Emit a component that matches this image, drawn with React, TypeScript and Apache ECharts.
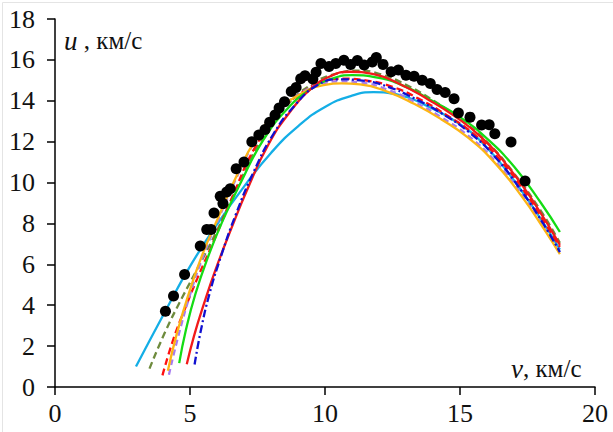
import React, { useEffect, useRef } from "react";
import * as echarts from "echarts";

const xTicks = [0, 5, 10, 15, 20];
const yTicks = [0, 2, 4, 6, 8, 10, 12, 14, 16, 18];

const measured = [
  [4.09, 3.7], [4.39, 4.45], [4.8, 5.5], [5.38, 6.9], [5.62, 7.7], [5.78, 7.7], [5.89, 8.51],
  [6.12, 9.33], [6.22, 8.97], [6.36, 9.54], [6.49, 9.7], [6.71, 10.68], [7.0, 11.0], [7.29, 12.0],
  [7.55, 12.33], [7.78, 12.6], [7.95, 12.95], [8.15, 13.3], [8.3, 13.65], [8.5, 13.95], [8.75, 14.45],
  [8.93, 14.65], [9.1, 15.08], [9.26, 15.22], [9.55, 15.06], [9.67, 15.4], [9.85, 15.82], [10.15, 15.68],
  [10.4, 15.82], [10.7, 15.98], [10.95, 15.78], [11.2, 15.97], [11.45, 15.75], [11.75, 15.9], [11.9, 16.12],
  [12.15, 15.78], [12.45, 15.42], [12.72, 15.5], [13.0, 15.25], [13.3, 15.2], [13.6, 15.0], [13.9, 14.85],
  [14.15, 14.55], [14.45, 14.4], [14.78, 14.1], [14.94, 13.4], [15.37, 13.2], [15.8, 12.82], [16.08, 12.83],
  [16.29, 12.39], [16.89, 11.98], [17.41, 10.08],
];

const cyanCurve = [
  [3.0, 1.0], [4.0, 3.5], [5.0, 5.9], [6.0, 7.95], [7.0, 9.8], [8.0, 11.45], [9.0, 12.75], [10.0, 13.7],
  [11.0, 14.25], [11.8, 14.42], [12.7, 14.3], [13.7, 13.8], [15.0, 12.85], [16.0, 11.7], [17.0, 10.1],
  [18.0, 8.2], [18.7, 6.72],
];
const oliveCurve = [
  [3.5, 0.9], [4.1, 2.75], [4.7, 4.35], [5.3, 5.85], [6.0, 7.65], [6.8, 9.9], [7.6, 12.0], [8.5, 13.65],
  [9.5, 14.8], [10.5, 15.35], [11.2, 15.47], [12.0, 15.32], [13.0, 14.78], [14.0, 14.02], [15.0, 13.1],
  [16.0, 11.98], [17.0, 10.45], [18.0, 8.6], [18.7, 7.05],
];
const redDashCurve = [
  [3.98, 0.57], [4.4, 2.4], [4.85, 3.95], [5.3, 5.4], [5.9, 7.2], [6.6, 9.4], [7.4, 11.7], [8.3, 13.4],
  [9.2, 14.45], [10.0, 14.95], [10.7, 15.08], [11.5, 15.0], [12.5, 14.68], [13.5, 14.08], [14.5, 13.3],
  [15.5, 12.38], [16.5, 11.08], [17.5, 9.35], [18.2, 7.9], [18.7, 6.85],
];
const purpleCurve = [
  [4.22, 0.6], [4.55, 2.4], [5.0, 4.5], [5.5, 6.45], [6.1, 8.35], [6.8, 10.45], [7.5, 12.2], [8.3, 13.55],
  [9.2, 14.45], [10.0, 14.88], [10.6, 14.95], [11.3, 14.9], [12.3, 14.55], [13.3, 13.95], [14.3, 13.2],
  [15.3, 12.3], [16.3, 11.05], [17.3, 9.4], [18.1, 7.8], [18.7, 6.55],
];
const orangeCurve = [
  [4.18, 0.8], [4.5, 2.55], [4.95, 4.55], [5.45, 6.45], [6.05, 8.3], [6.75, 10.4], [7.45, 12.15], [8.25, 13.5],
  [9.2, 14.4], [10.0, 14.78], [10.6, 14.85], [11.3, 14.8], [12.3, 14.45], [13.3, 13.85], [14.3, 13.1],
  [15.3, 12.2], [16.3, 10.95], [17.3, 9.3], [18.1, 7.75], [18.7, 6.5],
];
const greenCurve = [
  [4.6, 1.17], [4.85, 2.8], [5.2, 4.55], [5.65, 6.3], [6.2, 8.1], [6.9, 10.05], [7.7, 12.05], [8.6, 13.6],
  [9.5, 14.6], [10.3, 15.1], [11.0, 15.25], [12.0, 15.12], [13.0, 14.68], [14.0, 13.98], [15.0, 13.2],
  [16.0, 12.15], [17.0, 10.78], [18.0, 9.0], [18.7, 7.58],
];
const redCurve = [
  [4.88, 1.11], [5.15, 2.5], [5.5, 4.0], [5.95, 5.75], [6.5, 7.65], [7.15, 9.75], [7.9, 11.85], [8.7, 13.45],
  [9.5, 14.6], [10.2, 15.2], [10.9, 15.42], [11.8, 15.3], [12.8, 14.8], [13.8, 14.08], [14.8, 13.25],
  [15.8, 12.2], [16.8, 10.75], [17.8, 8.9], [18.7, 6.95],
];
const blueCurve = [
  [5.17, 1.1], [5.4, 2.75], [5.72, 4.55], [6.15, 6.4], [6.7, 8.45], [7.35, 10.5], [8.1, 12.4], [8.9, 13.8],
  [9.7, 14.75], [10.5, 15.05], [11.3, 15.0], [12.3, 14.7], [13.3, 14.12], [14.3, 13.4], [15.3, 12.5],
  [16.3, 11.25], [17.3, 9.55], [18.1, 7.95], [18.7, 6.6],
];

const FONT = "Times New Roman, Liberation Serif, DejaVu Serif, serif";

function lineSeries(name: string, data: number[][], color: string, type: any) {
  return {
    name,
    type: "line",
    data,
    smooth: 0.5,
    showSymbol: false,
    symbol: "none",
    lineStyle: { color, width: 2.3, type },
    z: 2,
  };
}

export default function App() {
  const ref = useRef<HTMLDivElement>(null);
  useEffect(() => {
    if (!ref.current) return;
    const chart = echarts.init(ref.current, null, { renderer: "svg" });
    chart.setOption({
      animation: false,
      backgroundColor: "#ffffff",
      textStyle: { fontFamily: FONT },
      grid: { left: 55, right: 18, top: 19, bottom: 45, containLabel: false },
      xAxis: {
        type: "value",
        min: xTicks[0],
        max: xTicks[xTicks.length - 1],
        interval: 5,
        axisLine: { show: true, onZero: false, lineStyle: { color: "#000", width: 1.5 } },
        axisTick: { show: true, inside: false, length: 8, lineStyle: { color: "#000", width: 1.5 } },
        splitLine: { show: false },
        axisLabel: { color: "#111", fontSize: 26, fontFamily: FONT, margin: 13 },
      },
      yAxis: {
        type: "value",
        min: yTicks[0],
        max: yTicks[yTicks.length - 1],
        interval: 2,
        axisLine: { show: true, onZero: false, lineStyle: { color: "#000", width: 1.5 } },
        axisTick: { show: true, inside: false, length: 8, lineStyle: { color: "#000", width: 1.5 } },
        splitLine: { show: false },
        axisLabel: { color: "#111", fontSize: 26, fontFamily: FONT, margin: 20 },
      },
      graphic: [
        {
          type: "rect",
          left: 0,
          top: 0,
          shape: { x: 0.5, y: 0.5, width: 611, height: 430 },
          style: { fill: "none", stroke: "#e4e4e4", lineWidth: 1 },
          silent: true,
        },
        {
          type: "text",
          left: 64,
          top: 27,
          style: {
            text: "{i|u}{n| , км/с}",
            fontFamily: FONT,
            rich: {
              i: { fontFamily: FONT, fontStyle: "italic", fontSize: 27, fill: "#111" },
              n: { fontFamily: FONT, fontSize: 25, fill: "#111" },
            },
          },
        },
        {
          type: "text",
          left: 511,
          top: 355,
          style: {
            text: "{i|v}{n|, км/с}",
            fontFamily: FONT,
            rich: {
              i: { fontFamily: FONT, fontStyle: "italic", fontSize: 27, fill: "#111" },
              n: { fontFamily: FONT, fontSize: 25, fill: "#111" },
            },
          },
        },
      ],
      series: [
        lineSeries("cyan", cyanCurve, "#14AEE6", "solid"),
        lineSeries("olive", oliveCurve, "#6E8B3D", [7, 4]),
        lineSeries("redDash", redDashCurve, "#FF1010", [7, 4]),
        lineSeries("purple", purpleCurve, "#A57BF0", [6, 4]),
        lineSeries("orange", orangeCurve, "#FDB515", "solid"),
        lineSeries("green", greenCurve, "#14DC14", "solid"),
        lineSeries("red", redCurve, "#F21A1A", "solid"),
        lineSeries("blue", blueCurve, "#1010D0", [8, 3, 2, 3]),
        {
          name: "data",
          type: "scatter",
          data: measured,
          symbol: "circle",
          symbolSize: 11,
          itemStyle: { color: "#000", opacity: 1 },
          z: 3,
        },
      ],
    });
    return () => chart.dispose();
  }, []);
  return (
    <div
      ref={ref}
      style={{ position: "fixed", left: 0, top: 0, width: 613, height: 432, background: "#fff" }}
    />
  );
}
